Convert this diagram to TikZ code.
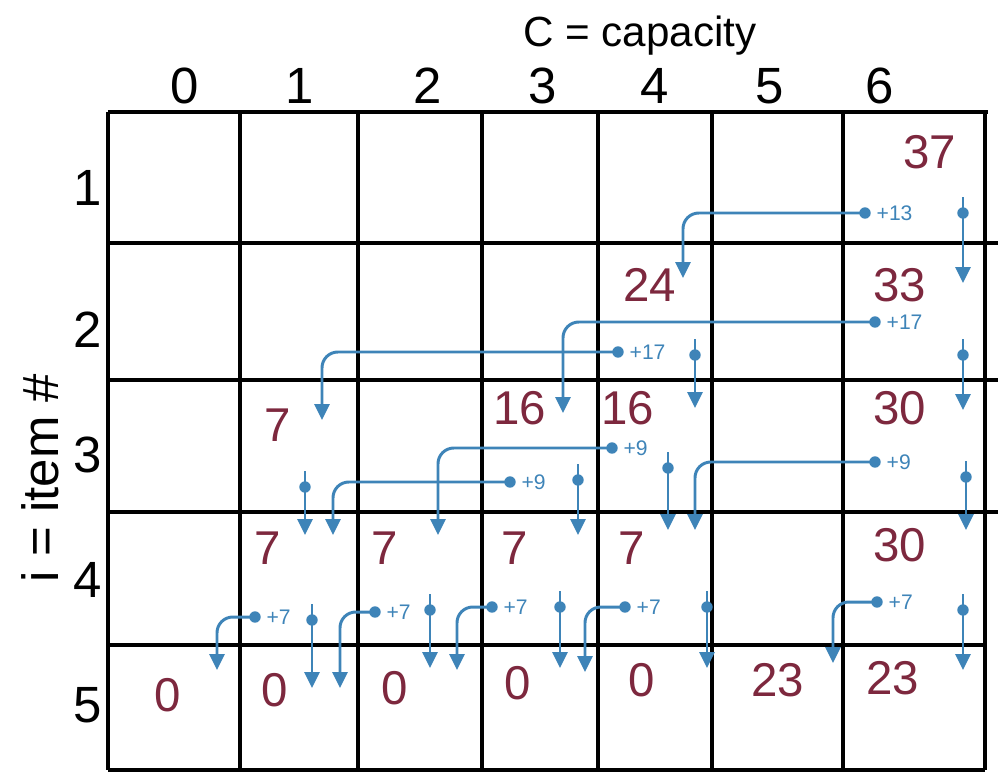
\documentclass[tikz,border=0pt]{standalone}
\usepackage{fontspec}
\setmainfont{Liberation Sans}
\usetikzlibrary{arrows.meta,positioning,calc}
\definecolor{CellInk}{RGB}{125,40,62}
\definecolor{TraceBlue}{RGB}{62,132,184}
\tikzset{
  gridline/.style={line width=2pt, black},
  val/.style={CellInk, font=\fontsize{27}{29}\selectfont},
  hdr/.style={black, font=\fontsize{29}{31}\selectfont},
  gain/.style={TraceBlue, font=\fontsize{12}{13}\selectfont, inner sep=1pt},
  src/.style={circle, fill=TraceBlue, inner sep=0pt, minimum size=6.5pt},
  trace/.style={TraceBlue, line width=1.7pt, rounded corners=9pt, -{Triangle[length=3.2mm,width=3mm]}},
}
\begin{document}
\begin{tikzpicture}[x=0.02cm, y=-0.02cm]
      \useasboundingbox (0,0) rectangle (1002,778);
      % table
      \foreach \gx in {108,240,358,482,598,712,843,985}
        \draw[gridline] (\gx,112) -- (\gx,770);
      \draw[gridline] (108,112) -- (988,112);
      \foreach \gy in {243,380,512}
        \draw[gridline] (108,\gy) -- (998,\gy);
      \draw[gridline] (108,645) -- (985,645);
      \draw[gridline] (108,770) -- (985,770);
      % axis labels
      \node[hdr, font=\fontsize{24}{26}\selectfont] (cap) at (640,36) {C = capacity};
      \node[hdr, rotate=90] (item) at (40,478) {i = item \#};
      \foreach \c/\x in {0/185,1/300,2/428,3/543,4/655,5/770,6/880}
        \node[hdr] (col\c) at (\x,86) {\c};
      \foreach \r/\y in {1/188,2/330,3/455,4/580,5/705}
        \node[hdr] (row\r) at (88,\y) {\r};
      % cell values
      \foreach \r/\c/\x/\y/\v in {1/6/930/152/37,
          2/4/650/285/24, 2/6/900/285/33,
          3/1/278/425/7, 3/3/520/408/16, 3/4/628/408/16, 3/6/900/408/30,
          4/1/268/548/7, 4/2/385/548/7, 4/3/515/548/7, 4/4/632/548/7, 4/6/900/545/30,
          5/0/168/695/0, 5/1/275/690/0, 5/2/395/688/0, 5/3/518/683/0, 5/4/642/680/0,
          5/5/778/680/23, 5/6/893/678/23}
        \node[val] (v\r\c) at (\x,\y) {\v};
      % back-pointers
      \foreach \n/\sx/\sy/\tx/\ty/\g in {a/865/213/683/278/+13, b/963/213/963/283/,
          c/875/322/563/413/+17, d/618/352/322/420/+17, e/695/355/695/408/, f/963/355/963/410/,
          g/612/448/438/535/+9, h/510/482/333/535/+9, i/305/487/305/535/, j/578/480/578/535/,
          k/668/468/668/530/, l/875/462/695/530/+9, m/966/477/966/530/,
          n/255/617/217/670/+7, o/312/620/312/688/, p/375/612/340/688/+7, q/430/610/430/668/,
          r/492/607/457/670/+7, s/560/607/560/668/, t/625/607/585/672/+7, u/707/607/707/668/,
          v/877/602/833/663/+7, w/963/610/963/670/}{
        \node[src] (dot-\n) at (\sx,\sy) {};
        \coordinate (tip-\n) at (\tx,\ty);
        \draw[trace] (dot-\n.center) -| (tip-\n);
        \node[gain, right=2pt of dot-\n] (gain-\n) {\g};
      }
    \end{tikzpicture}
\end{document}
